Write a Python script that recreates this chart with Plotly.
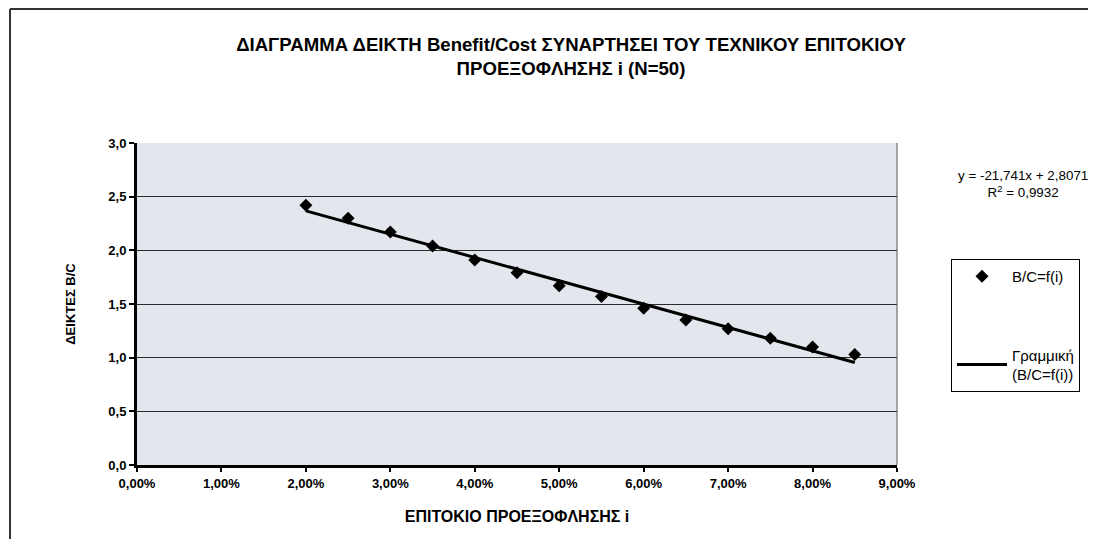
import numpy as np
import plotly.graph_objects as go

rates = [0.020, 0.025, 0.030, 0.035, 0.040, 0.045, 0.050, 0.055, 0.060, 0.065, 0.070, 0.075, 0.080, 0.085]
bc_values = [2.42, 2.30, 2.17, 2.04, 1.91, 1.79, 1.67, 1.57, 1.46, 1.35, 1.27, 1.18, 1.10, 1.03]
y_ticks = [0.0, 0.5, 1.0, 1.5, 2.0, 2.5, 3.0]
x_ticks = [0.00, 0.01, 0.02, 0.03, 0.04, 0.05, 0.06, 0.07, 0.08, 0.09]

title_text = "ΔΙΑΓΡΑΜΜΑ ΔΕΙΚΤΗ Benefit/Cost ΣΥΝΑΡΤΗΣΕΙ ΤΟΥ ΤΕΧΝΙΚΟΥ ΕΠΙΤΟΚΙΟΥ<br>ΠΡΟΕΞΟΦΛΗΣΗΣ i (N=50)"
eq_text = "y = -21,741x + 2,8071<br>R<sup>2</sup> = 0,9932"

# linear trendline fitted to the data
slope, intercept = np.polyfit(rates, bc_values, 1)
trend_x = [rates[0], rates[-1]]
trend_y = [slope * x + intercept for x in trend_x]

FONT = "Liberation Sans, Arial, sans-serif"

fig = go.Figure()
fig.add_trace(go.Scatter(
    x=rates, y=bc_values, mode="markers", name="B/C=f(i)",
    marker=dict(symbol="diamond", size=10, color="black"),
    legendgroup="a",
))
fig.add_trace(go.Scatter(
    x=trend_x, y=trend_y, mode="lines", name="Γραμμική<br>(B/C=f(i))",
    line=dict(color="black", width=3),
    legendgroup="b",
))

# screen-space plot area (page body has an 8px margin)
OFF = 8
PL, PR, PT, PB = 137, 897, 143, 465
W, H = 1096, 539
L = PL - OFF
T = PT - OFF
R = (W + OFF) - PR
B = (H + OFF) - PB
pw, ph = PR - PL, PB - PT

def px_to_paper(px, py):
    return (px - PL) / pw, (PB - py) / ph

fig.update_layout(
    width=W, height=H,
    margin=dict(l=L, r=R, t=T, b=B),
    paper_bgcolor="white",
    plot_bgcolor="#e3e7ed",
    separators=",.",
    font=dict(family=FONT, color="black", size=12),
    title=dict(text=title_text, x=(571 - OFF) / W, xanchor="center", y=1 - (51 - OFF) / H, yanchor="top",
               font=dict(family=FONT, size=18.6, color="black", weight="bold")),
    showlegend=True,
    legend=dict(
        x=px_to_paper(951, 0)[0], y=px_to_paper(0, 259)[1], xanchor="left", yanchor="top",
        bordercolor="black", borderwidth=1, bgcolor="white",
        font=dict(family=FONT, size=15, color="black"),
        tracegroupgap=56, itemwidth=50,
    ),
    xaxis=dict(
        range=[0, 0.09], tickvals=x_ticks, tickformat=".2%",
        showgrid=False, zeroline=False,
        showline=True, linecolor="black", linewidth=3,
        ticks="outside", tickcolor="black", ticklen=4, tickwidth=2,
        tickfont=dict(family=FONT, size=13, color="black", weight="bold"),
        title=dict(text="ΕΠΙΤΟΚΙΟ ΠΡΟΕΞΟΦΛΗΣΗΣ i", standoff=22,
                   font=dict(family=FONT, size=16, color="black", weight="bold")),
    ),
    yaxis=dict(
        range=[0, 3.0], tickvals=y_ticks, tickformat=".1f",
        showgrid=True, gridcolor="#2a2a2a", gridwidth=1, zeroline=False,
        showline=True, linecolor="black", linewidth=3,
        ticks="outside", tickcolor="black", ticklen=5, tickwidth=2,
        tickfont=dict(family=FONT, size=13, color="black", weight="bold"),
        title=dict(text="ΔΕΙΚΤΕΣ B/C", standoff=30,
                   font=dict(family=FONT, size=13, color="black", weight="bold")),
    ),
)

# right border of plot area
fig.add_shape(type="line", xref="paper", yref="paper", x0=1, x1=1, y0=0, y1=1,
              line=dict(color="#555555", width=1))

# outer chart border (top and left edges visible)
tx0, ty0 = px_to_paper(10, 9)
tx1, _ = px_to_paper(1096, 9)
_, ly1 = px_to_paper(10, 539)
fig.add_shape(type="line", xref="paper", yref="paper", x0=tx0, y0=ty0, x1=tx1, y1=ty0,
              line=dict(color="#333333", width=2))
fig.add_shape(type="line", xref="paper", yref="paper", x0=tx0, y0=ty0, x1=tx0, y1=ly1,
              line=dict(color="#333333", width=2))

ex, ey = px_to_paper(1023, 184)
fig.add_annotation(text=eq_text, xref="paper", yref="paper", x=ex, y=ey,
                   showarrow=False, align="center", xanchor="center", yanchor="middle",
                   font=dict(family=FONT, size=13.4, color="black"))

fig.write_html("out.html")
